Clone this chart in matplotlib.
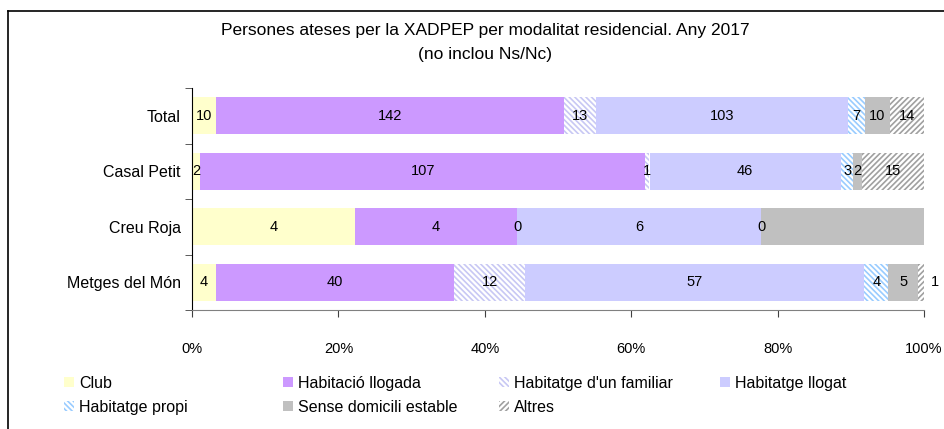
import numpy as np
import matplotlib.pyplot as plt
from matplotlib.lines import Line2D

plt.rcParams['font.family'] = ['Liberation Sans', 'DejaVu Sans']
plt.rcParams['hatch.linewidth'] = 1.2

# dades
categories = ["Total", "Casal Petit", "Creu Roja", "Metges del Món"]
series = ["Club", "Habitació llogada", "Habitatge d'un familiar", "Habitatge llogat",
          "Habitatge propi", "Sense domicili estable", "Altres"]
club = [10, 2, 4, 4]
hab_llogada = [142, 107, 4, 40]
familiar = [13, 1, 0, 12]
llogat = [103, 46, 6, 57]
propi = [7, 3, 0, 4]
sense_domicili = [10, 2, 4, 5]
altres = [14, 15, 0, 1]
valors = [club, hab_llogada, familiar, llogat, propi, sense_domicili, altres]
# etiquetes que no surten al grafic original
sense_etiqueta = {(2, 5), (2, 6)}

colors = ["#FFFFCC", "#CC99FF", "white", "#CCCCFF", "white", "#C0C0C0", "white"]
hatch_colors = [None, None, "#C8C8F4", None, "#99CCFF", None, "#A0A0A0"]
hatches = [None, None, "\\\\\\\\\\\\", None, "\\\\\\\\\\\\", None, "//////"]

fig = plt.figure(figsize=(9.44, 4.29), dpi=100)
ax = fig.add_axes([192 / 944, 1 - 310 / 429, 732 / 944, 222 / 429])

dades = np.array(valors, dtype=float)
totals = dades.sum(axis=0)
pct = dades / totals * 100
esquerra = np.zeros(len(categories))
y = np.arange(len(categories))
handles = []
for i, nom in enumerate(series):
    kw = dict(color=colors[i], linewidth=0)
    if hatches[i]:
        kw.update(hatch=hatches[i], edgecolor=hatch_colors[i])
    b = ax.barh(y, pct[i], left=esquerra, height=0.67, label=nom, **kw)
    handles.append(b)
    for j in range(len(categories)):
        if (j, i) in sense_etiqueta:
            continue
        xc = esquerra[j] + pct[i][j] / 2
        # segment massa estret al final de la barra: etiqueta a fora
        if pct[i][j] < 1 and esquerra[j] + pct[i][j] > 99.5:
            xc = 101.5
        ax.text(xc, y[j], f"{int(dades[i][j])}",
                ha="center", va="center", fontsize=10.5, color="black", clip_on=False)
    esquerra += pct[i]

ax.set_xlim(0, 100)
ax.set_ylim(3.5, -0.5)
ax.set_xticks(np.arange(0, 101, 20))
ax.set_xticklabels([f"{v}%" for v in range(0, 101, 20)], fontsize=10.5)
ax.set_yticks(y)
ax.set_yticklabels(categories, fontsize=11.5)
ax.tick_params(axis="y", length=0, pad=8)
ax.tick_params(axis="x", length=5, color="#404040", pad=18)
ax.set_yticks(np.arange(-0.5, 4, 1), minor=True)
ax.tick_params(axis="y", which="minor", length=5, color="#404040")
for s in ["top", "right"]:
    ax.spines[s].set_visible(False)
ax.spines["left"].set_color("black")
ax.spines["bottom"].set_color("#808080")

fig.text(485 / 944, 1 - 30 / 429, "Persones ateses per la XADPEP per modalitat residencial. Any 2017",
         ha="center", va="center", fontsize=12.5)
fig.text(485 / 944, 1 - 54 / 429, "(no inclou Ns/Nc)", ha="center", va="center", fontsize=12.5)

# vora del grafic
fig.add_artist(Line2D([8 / 944, 8 / 944], [0, 1 - 11 / 429], color="black", lw=1.2))
fig.add_artist(Line2D([8 / 944, 1], [1 - 11 / 429, 1 - 11 / 429], color="black", lw=1.2))

# llegenda per columnes
columnes = [[0, 4], [1, 5], [2, 6], [3]]
xs = [64, 283, 499, 720]
for col, x0 in zip(columnes, xs):
    leg = fig.legend([handles[k] for k in col], [series[k] for k in col],
                     loc="upper left", bbox_to_anchor=(x0 / 944, 1 - 376 / 429),
                     frameon=False, fontsize=11.5, handlelength=0.6, handleheight=0.6,
                     handletextpad=0.35, labelspacing=0.55, borderpad=0, borderaxespad=0)

fig.savefig("out.png", dpi=100)
